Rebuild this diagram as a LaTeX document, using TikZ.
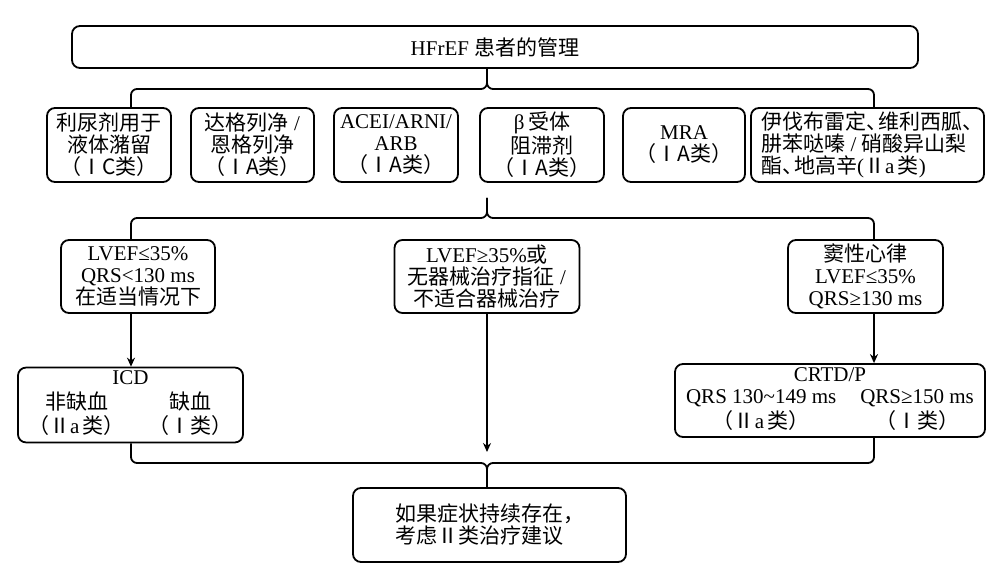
\documentclass[tikz,border=0pt]{standalone}
\usepackage{fontspec}
\setmainfont{Liberation Serif}
\newfontfamily\cjkfont{Noto Sans CJK SC}
\newcommand{\zh}[1]{{\cjkfont #1}}
\newcommand{\dun}{\zh{、}\kern-0.45em}
\usetikzlibrary{arrows.meta}
\tikzset{
  box/.style={draw, line width=0.9pt, rounded corners=4pt, align=center, inner sep=1pt,
    font=\fontsize{10.5pt}{11pt}\selectfont},
  link/.style={line width=0.9pt, rounded corners=3pt},
  arrow/.style={line width=0.9pt, -{Stealth[length=4.5pt,width=4pt]}}
}
\begin{document}
\begin{tikzpicture}[x=0.5pt,y=-0.5pt]
  \useasboundingbox (0,0) rectangle (1004,582);
  \coordinate (colL) at (131,0);
  \coordinate (colM) at (487,0);
  \coordinate (colR) at (874,0);
  \node[box, minimum width=423pt, minimum height=21pt] (top) at (495,47) {HFrEF \zh{患者的管理}};
  \node[box, minimum width=62pt, minimum height=37pt] (b1) at (109,145) {\zh{利尿剂用于}\\\zh{液体潴留}\\\zh{（ⅠC类）}};
  \node[box, minimum width=61.5pt, minimum height=37pt] (b2) at (252.5,145) {\zh{达格列净} /\\\zh{恩格列净}\\\zh{（ⅠA类）}};
  \node[box, minimum width=62pt, minimum height=37pt] (b3) at (396,145) {ACEI/ARNI/\\ARB\\\zh{（ⅠA类）}};
  \node[box, minimum width=62pt, minimum height=37pt] (b4) at (542,145) {β\,\zh{受体}\\\zh{阻滞剂}\\\zh{（ⅠA类）}};
  \node[box, minimum width=61pt, minimum height=37pt] (b5) at (684,145) {MRA\\\zh{（ⅠA类）}};
  \node[box, minimum width=116.5pt, minimum height=37pt, align=left] (b6) at (867.5,145)
    {\zh{伊伐布雷定}\dun\zh{维利西胍}\dun\\\zh{肼苯哒嗪} / \zh{硝酸异山梨}\\\zh{酯}\dun\zh{地高辛}(\zh{Ⅱ}a\,\zh{类})};
  \node[box, minimum width=77pt, minimum height=36.5pt] (c1) at (138,276.5) {LVEF≤35\%\\QRS<130 ms\\\zh{在适当情况下}};
  \node[box, minimum width=92.5pt, minimum height=36.5pt] (c2) at (487,276.5) {LVEF≥35\%\zh{或}\\\zh{无器械治疗指征} /\\\zh{不适合器械治疗}};
  \node[box, minimum width=77.5pt, minimum height=36.5pt] (c3) at (865.5,276.5) {\zh{窦性心律}\\LVEF≤35\%\\QRS≥130 ms};
  \node[box, minimum width=112.5pt, minimum height=37pt] (icd) at (130.5,405)
    {\begin{tabular}{@{}cc@{}}\multicolumn{2}{c}{ICD}\\\zh{非缺血}&\zh{缺血}\\\zh{（Ⅱ}a\,\zh{类）}&\zh{（Ⅰ类）}\end{tabular}};
  \node[box, minimum width=155pt, minimum height=36.5pt] (crt) at (830,400.5)
    {\begin{tabular}{@{}cc@{}}\multicolumn{2}{c}{CRTD/P}\\QRS 130\textasciitilde149 ms&QRS≥150 ms\\\zh{（Ⅱ}a\,\zh{类）}&\zh{（Ⅰ类）}\end{tabular}};
  \node[box, minimum width=136.5pt, minimum height=37pt, align=left] (fin) at (489.5,525)
    {\zh{如果症状持续存在，}\\\zh{考虑Ⅱ类治疗建议}};
  \coordinate (m1) at (487,89);
  \coordinate (m2) at (487,218);
  \coordinate (tip2) at (487,198);
  \coordinate (e2) at (487,452);
  \coordinate (m3) at (487,463);
  \draw[link] (b1.north -| colL) |- (m1) -- (top.south -| colM);
  \draw[link] (b6.north -| colR) |- (m1) -- (top.south -| colM);
  \draw[link] (c1.north -| colL) |- (m2) -- (tip2);
  \draw[link] (c3.north -| colR) |- (m2) -- (tip2);
  \draw[arrow] (c1.south -| colL) -- (icd.north -| colL);
  \draw[arrow] (c2.south) -- (e2);
  \draw[arrow] (c3.south -| colR) -- (crt.north -| colR);
  \draw[link] (icd.south -| colL) |- (m3) -- (fin.north -| colM);
  \draw[link] (crt.south -| colR) |- (m3) -- (fin.north -| colM);
\end{tikzpicture}
\end{document}
